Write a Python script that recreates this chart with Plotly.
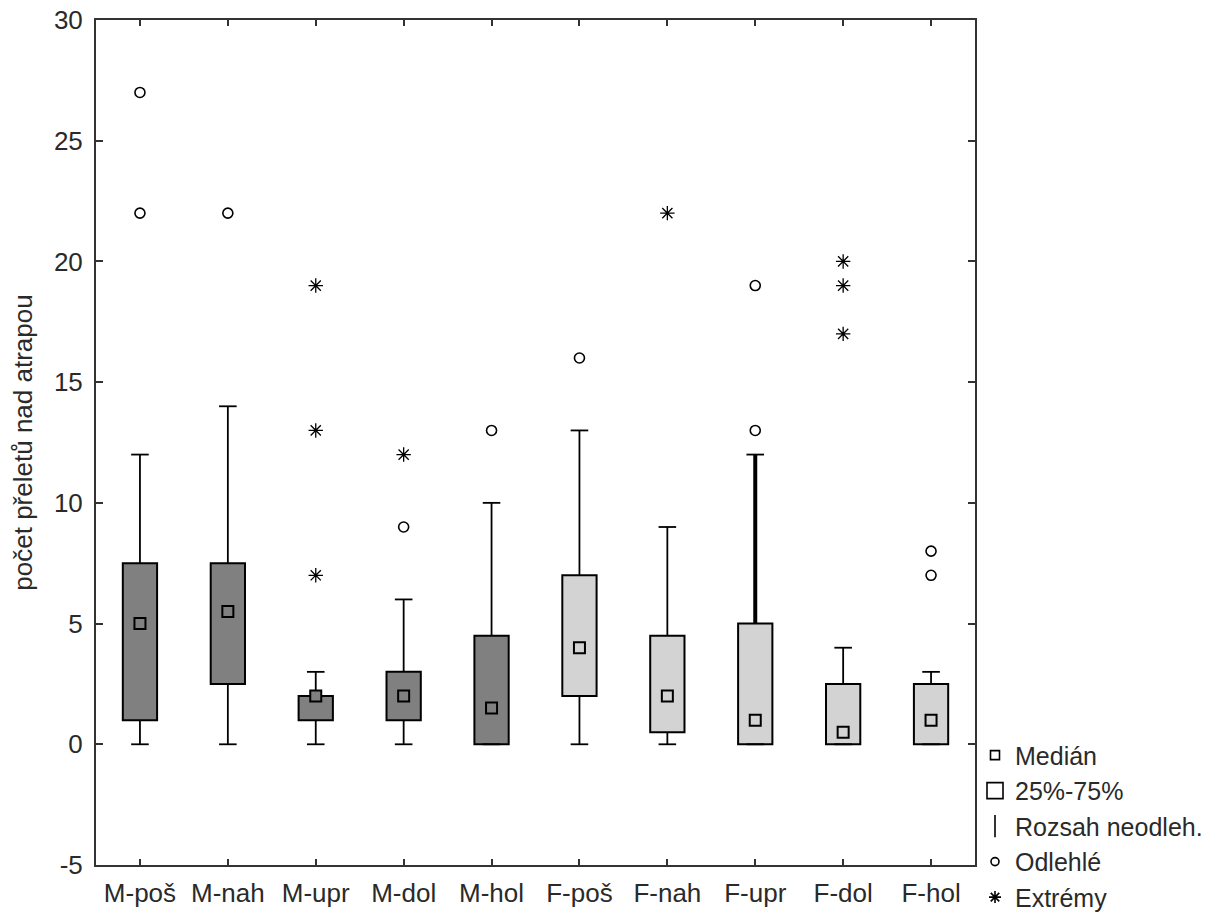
import plotly.graph_objects as go

categories = ["M-poš", "M-nah", "M-upr", "M-dol", "M-hol",
              "F-poš", "F-nah", "F-upr", "F-dol", "F-hol"]
group = ["M", "M", "M", "M", "M", "F", "F", "F", "F", "F"]
q1 = [1, 2.5, 1, 1, 0, 2, 0.5, 0, 0, 0]
median = [5, 5.5, 2, 2, 1.5, 4, 2, 1, 0.5, 1]
q3 = [7.5, 7.5, 2, 3, 4.5, 7, 4.5, 5, 2.5, 2.5]
whisker_low = [0, 0, 0, 0, 0, 0, 0, 0, 0, 0]
whisker_high = [12, 14, 3, 6, 10, 13, 9, 12, 4, 3]
outliers = {"M-poš": [22, 27], "M-nah": [22], "M-dol": [9], "M-hol": [13],
            "F-poš": [16], "F-upr": [13, 19], "F-hol": [7, 8]}
extremes = {"M-upr": [7, 13, 19], "M-dol": [12], "F-nah": [22],
            "F-dol": [17, 19, 20]}
y_ticks = [-5, 0, 5, 10, 15, 20, 25, 30]
y_title = "počet přeletů nad atrapou"
legend_labels = ["Medián", "25%-75%", "Rozsah neodleh.", "Odlehlé", "Extrémy"]

FONT = "Liberation Sans, Arial, sans-serif"
FS = 26
LFS = 25
TXT = "#2a2a2a"
BOXW = 0.39
CAP = 0.1
colors = {"M": "#808080", "F": "#d3d3d3"}

xs = list(range(len(categories)))
fig = go.Figure()

# boxes
for g in ["M", "F"]:
    idx = [i for i in xs if group[i] == g]
    fig.add_trace(go.Bar(
        x=idx, y=[q3[i] - q1[i] for i in idx], base=[q1[i] for i in idx],
        width=BOXW, marker=dict(color=colors[g], line=dict(color="black", width=2)),
        showlegend=False, hoverinfo="skip"))

# whiskers
thick = {"F-upr"}
wx, wy = [], []
tx, ty = [], []
for i in xs:
    if categories[i] in thick:
        tx += [i, i, None]
        ty += [q3[i], whisker_high[i], None]
    else:
        wx += [i, i, None]
        wy += [q3[i], whisker_high[i], None]
    wx += [i - CAP, i + CAP, None, i, i, None, i - CAP, i + CAP, None]
    wy += [whisker_high[i], whisker_high[i], None,
           whisker_low[i], q1[i], None, whisker_low[i], whisker_low[i], None]
fig.add_trace(go.Scatter(x=wx, y=wy, mode="lines",
                         line=dict(color="black", width=1.8),
                         showlegend=False, hoverinfo="skip"))
fig.add_trace(go.Scatter(x=tx, y=ty, mode="lines",
                         line=dict(color="black", width=4),
                         showlegend=False, hoverinfo="skip"))

# medians
for g in ["M", "F"]:
    idx = [i for i in xs if group[i] == g]
    fig.add_trace(go.Scatter(
        x=idx, y=[median[i] for i in idx], mode="markers",
        marker=dict(symbol="square", size=11, color=colors[g],
                    line=dict(color="black", width=2)),
        showlegend=False, hoverinfo="skip"))

# outliers
ox, oy = [], []
for c, vals in outliers.items():
    for v in vals:
        ox.append(categories.index(c)); oy.append(v)
fig.add_trace(go.Scatter(x=ox, y=oy, mode="markers",
                         marker=dict(symbol="circle-open", size=10, color="black",
                                     line=dict(width=1.6)),
                         showlegend=False, hoverinfo="skip"))
ex, ey = [], []
for c, vals in extremes.items():
    for v in vals:
        ex.append(categories.index(c)); ey.append(v)
fig.add_trace(go.Scatter(x=ex, y=ey, mode="markers",
                         marker=dict(symbol="asterisk-open", size=12, color="black",
                                     line=dict(width=1.3)),
                         showlegend=False, hoverinfo="skip"))

# legend entries
leg_syms = [("square-open", 9), ("square-open", 16), ("line-ns-open", 16),
            ("circle-open", 8), ("asterisk-open", 10)]
for lab, (sym, sz) in zip(legend_labels, leg_syms):
    fig.add_trace(go.Scatter(x=[None], y=[None], mode="markers", name=lab,
                             marker=dict(symbol=sym, size=sz, color="black",
                                         line=dict(width=1.6, color="black"))))

axis_common = dict(showline=True, linecolor="#333333", linewidth=2, mirror="ticks",
                   ticks="inside", tickcolor="#333333", tickwidth=2,
                   showgrid=False, zeroline=False, automargin=False,
                   tickfont=dict(family=FONT, size=FS, color=TXT))
fig.update_xaxes(range=[-0.5, 9.5], tickvals=xs, ticktext=categories,
                 ticklen=6, ticklabelstandoff=4, **axis_common)
fig.update_yaxes(range=[-5, 30], tickvals=y_ticks,
                 ticktext=[str(v) for v in y_ticks], ticklen=7,
                 ticklabelstandoff=6,
                 title=dict(text=y_title, font=dict(family=FONT, size=FS, color=TXT),
                            standoff=14),
                 **axis_common)
fig.update_layout(
    width=1228, height=913,
    margin=dict(l=96, r=253, t=20, b=48, autoexpand=False),
    plot_bgcolor="white", paper_bgcolor="white",
    barmode="overlay",
    font=dict(family=FONT, size=FS, color=TXT),
    legend=dict(x=1.0, xanchor="left", y=0.157, yanchor="top",
                bgcolor="rgba(0,0,0,0)", font=dict(family=FONT, size=LFS, color=TXT),
                itemwidth=30, tracegroupgap=0),
)
fig.write_html("out.html")
